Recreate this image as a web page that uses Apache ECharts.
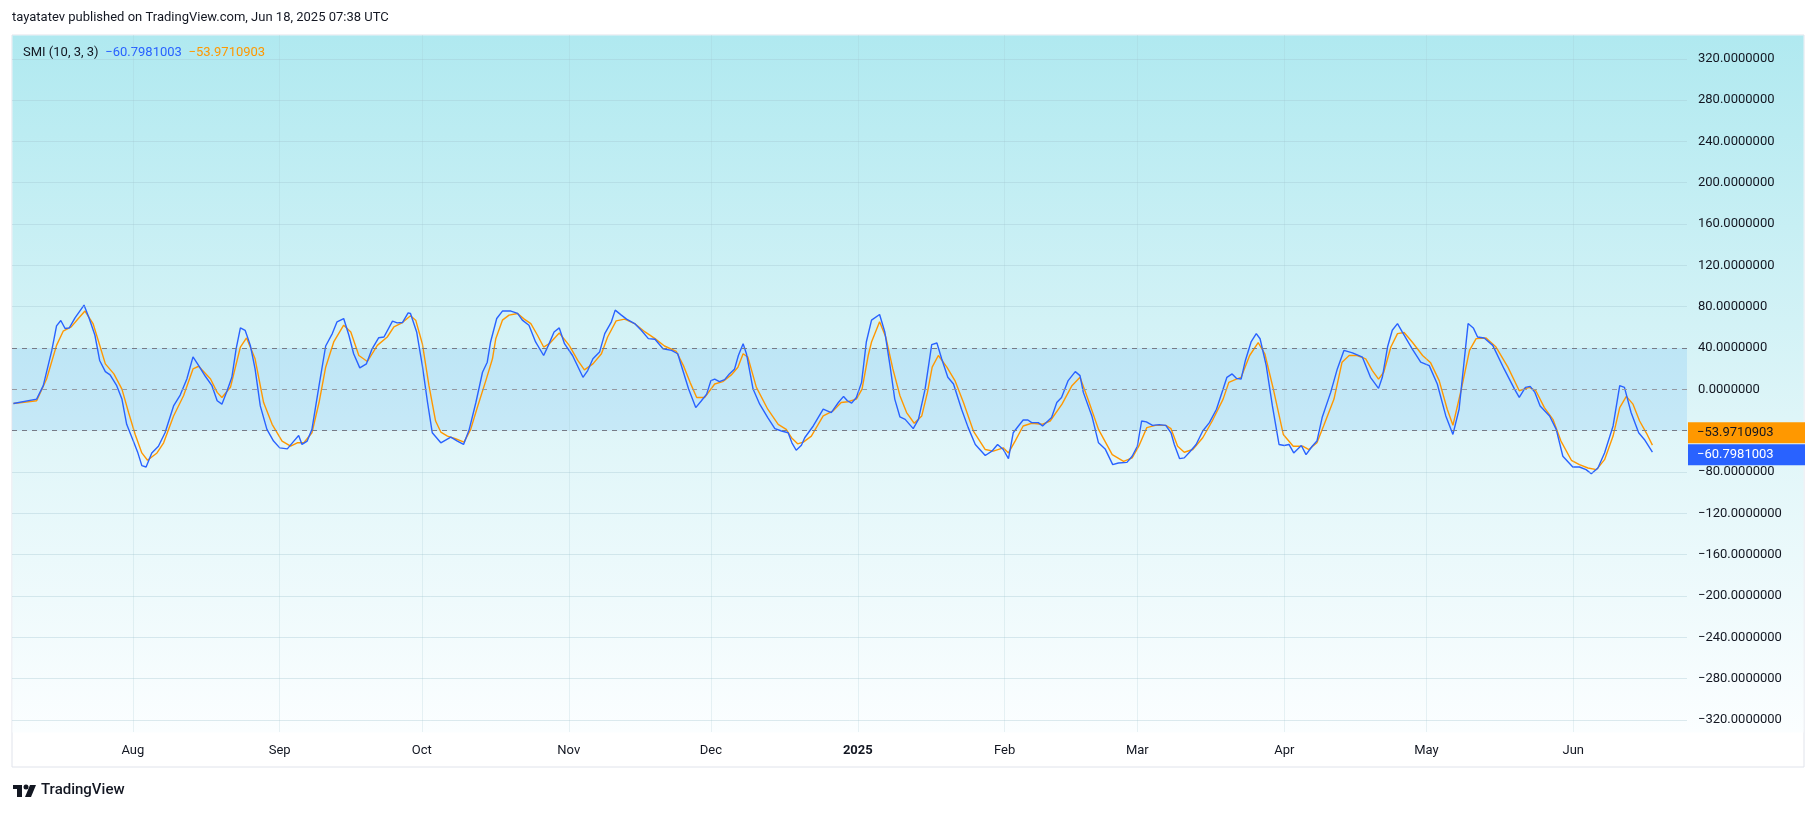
<!DOCTYPE html>
<html>
<head>
    <meta charset="utf-8">
    <title>SMI</title>
    <script src="https://cdn.jsdelivr.net/npm/echarts@6/dist/echarts.min.js"></script>
    <style>body{margin:0;background:#fff}</style>
</head>
<body>
    <div id="main" style="width:1815px;height:814px;"></div>
    <script type="text/javascript">

    // days counted from 2024-08-01
    var smiDays = [-25.2,-20.3,-18.9,-17.1,-16.1,-15.2,-14.3,-13.4,-12.2,-10.3,-9.2,-8,-7,-5.8,-4.8,-3.4,-2.3,-1.3,0.1,1,1.9,2.8,4,5.4,6.8,8.6,10,11.4,12.7,13.9,15.3,16.7,17.8,18.8,19.9,20.9,21.8,22.7,23.7,24.8,25.8,26.9,28.3,29.7,31,32.6,33.8,35,35.7,36.8,37.8,39.3,40.7,42.1,43.1,44.5,45.6,46.6,47.9,49.3,50.5,51.9,53,54.8,55.8,56.9,58.1,58.6,59.9,61.1,62.2,63.2,65,
        67.1,68.5,69.8,71,72.4,73.8,74.8,75.5,76.8,78,79.8,81.2,82.2,83.6,85,86.7,87.7,88.9,90,91.1,92.8,95,96,97.1,98.5,99.6,101,101.8,103.1,104.2,105.9,107.3,108.8,110.2,111.9,113.7,115,116.2,117.3,118.8,120,121.1,122,122.8,123.8,124.9,125.9,127,127.8,128.8,129.5,130.9,132.3,134,135.5,136.9,138.3,139.1,140,141.1,141.8,143.6,145.7,147.4,148.9,150,150.8,151.7,152.7,153.8,154.8,155.9,
        157.6,158.7,159.8,160.8,161.9,163,164.7,165.8,167.2,168.6,169.7,170.7,172,173.2,174.9,176.3,177.8,179.9,181.3,182.5,183.7,184.8,185.8,186.9,187.9,188.9,189.7,191.1,192,193.9,195,196,197.4,198.9,199.9,200.6,202.4,203.8,205.2,206.8,208,209.8,210.9,212,212.9,213.9,215.2,216.6,218,219.1,219.8,220.9,221.9,223,224.4,225.8,227.2,228.7,230.1,230.9,232,232.9,233.9,234.8,236,237.1,237.9,239.2,240.5,241.9,243,244,245,246.6,247.6,248.9,
        249.9,251,252.8,254.2,255.6,257.4,259.5,261.2,262.9,263.7,264.8,265.8,266.9,267.9,270,271.8,273.6,275.3,277.1,278.6,279.9,281.8,282.9,283.8,285.2,287,289.4,291.6,292.6,293.9,294.9,295.9,297,299,300.4,301.8,303.9,305.3,306.7,307.8,309.2,310.6,312.4,313.8,314.8,316.2,317.8,319,320.7];
    var smiValues = [-13.7,-9.4,3.6,37.7,61.5,66.7,58.9,59.5,69.3,81.6,68.6,52.4,28,17.2,14,3.6,-9.4,-33.8,-50,-60.5,-73.8,-75.1,-61.5,-55,-42,-16,-5.5,10,31.5,23,12.7,3.6,-11,-14.3,-1.3,11.7,39.3,59.5,57.2,42.6,19.8,-16,-38.7,-50,-56.6,-57.6,-51,-44.6,-53.3,-50,-38.7,3.6,42,54,65.4,68.6,52.4,34.5,20.8,24.7,39.3,50,50.7,66,64.4,64.7,74.1,73.5,55.6,23,-12.7,-42,-51.7,
        -46.2,-50,-53.3,-38.7,-12.7,16.6,26.3,45.9,68.6,75.8,75.8,73.5,67,62.1,45.9,32.8,42.6,55.6,59.5,44.2,32.8,11.7,18.2,29.6,36.1,54,65.4,76.7,71.9,68,63.7,57.2,49.1,48.5,39.3,37.7,34.5,16.6,0.3,-17.6,-11,-4.6,8.5,10,7.5,9.4,15,19.8,32.8,44.2,34.5,0.3,-14.3,-27.3,-38,-40.3,-42,-51.7,-58.9,-54,-46.8,-35.4,-19.2,-22.4,-12.7,-6.8,-11,-13.3,-7.8,6.8,45.9,67,
        72.5,55.6,23,-9.4,-26.7,-29,-38,-29,0.3,43.3,44.9,29.6,11.7,5.2,-19.2,-37,-53.3,-64,-59.8,-53.3,-58.2,-67,-42,-35.4,-29.6,-29.6,-32.2,-32.2,-35.4,-27.3,-12.7,-7.8,8.5,17.2,13.3,-2.9,-25.7,-51.7,-57.6,-72.8,-71.2,-70.6,-64.7,-55,-30.6,-31.5,-34.8,-34.1,-34.8,-42,-53.3,-67,-66.3,-60.8,-53.3,-40.3,-32.2,-19.2,0.3,11.7,15,10.7,10,28,45.9,54,49,23,-16,-53.3,-54.3,-53.3,-61.5,-54.3,-63.1,-55,
        -50,-27.3,-2.9,19.8,37.7,35.4,31.2,11.7,1,11.7,41,57.2,63.7,55.6,39.3,26.3,23,5.2,-25.7,-43.6,-19.2,63.7,59.5,50.7,49.8,42.6,19.8,0.3,-7.8,2,2.9,-2.9,-16,-25.7,-38.7,-64.7,-75.1,-75.1,-77.7,-81.6,-76.1,-61.5,-35.4,3.6,2,-22.4,-42,-48.5,-60.8];

    var sigDays = [-25.2,-20.3,-18.2,-16.1,-14.7,-13,-11.5,-10.1,-8.4,-7.2,-5.8,-4,-2.3,-0.9,0.5,1.9,3.1,5.1,6.5,8.6,10.7,12.7,13.9,16.4,17.8,18.8,20.6,22.7,24,25.8,27.6,29.4,31.5,33.3,34.7,36.1,37.8,39.3,40.7,42.4,44.5,46,47.7,49.5,51.6,53.7,55.1,56.9,58.6,59.7,61.1,62.5,63.9,65,
        66.4,68.1,69.9,71.3,72.7,74.5,75.9,76.6,78,79.4,81.2,82.6,84,85.4,86.7,87.9,90,92.1,93.9,95.3,97.1,98.9,100.2,102,103.8,105.9,108.1,110.2,112.2,114.7,116.2,117.6,119,120.7,122.8,124.5,126.3,127.7,128.8,129.8,131.6,134,136.2,137.9,139,140.3,141.5,143.2,145.7,147.8,149.5,150.9,152.7,153.9,155.2,155.9,
        157.6,158.9,160.4,161.9,163.3,164.9,166.5,167.7,168.7,170,171.8,173.5,175.3,177.4,179.9,181.6,183.7,184.8,186.2,187.9,189.7,191.9,193.6,196.1,198.2,199.9,201.7,203.8,206.7,209.1,210.9,212.3,214,215.8,218,219.1,220.5,221.9,223.7,225.8,227.8,230.1,231.3,232.9,233.9,235.7,237.5,238.9,240.7,242.8,244.9,246.9,
        248.2,249.9,251.3,253.5,255.2,256.7,258.4,260.2,261.6,262.9,264,265.5,266.9,268.3,270,272.2,273.9,275.7,277.4,278.6,280.3,282.1,283.5,285.6,287.7,290.2,292.6,294.7,296.1,297.9,299.7,301.4,303.6,305.3,307.1,308.9,310.6,312.4,313.8,315.2,316.6,318,319.4,320.7];
    var sigValues = [-13.7,-11,10,42.6,56.3,60.5,68.6,75.8,63.7,45.9,24.7,15,0.3,-22.4,-43.6,-61.5,-68.6,-61.5,-51.7,-25.7,-6.2,19.8,22.4,10,-2.9,-7.8,2,41,49.8,29.6,-12.7,-33.8,-50,-55,-51.7,-51.7,-42,-12.7,21.5,45.9,62.1,55.6,32.8,27,42.6,50.7,60.5,64.7,71.2,67,44.2,3.6,-30.6,-41.3,
        -45.2,-47.8,-51,-38.7,-17.6,8.5,29.6,49.1,67,71.9,73.5,68,63.7,52.4,41,44.2,54.6,42.6,28,18.9,24.7,34.5,50.7,66.3,68,63.7,55.6,49.1,42,36.7,23,6.8,-7.8,-7.8,5.2,7.5,14,21.5,34.5,31.2,2,-19.2,-33.8,-38.7,-46.8,-52.7,-51,-45.2,-25.7,-20.8,-12.7,-12,-9.4,0.3,32.8,45.9,
        65.4,50.7,19.8,-6.2,-22.4,-32.8,-25.7,-2.9,21.5,32.8,21.5,8.5,-12.7,-40.3,-58.2,-59.8,-56.6,-61.5,-50,-35.4,-32.8,-33.8,-30.6,-14.3,3.6,11.7,-11,-38.7,-63.1,-69.6,-66.3,-55,-37,-34.8,-34.8,-38,-55,-60.8,-58.2,-46.8,-30.6,-9.4,6.8,10,11.7,32.8,45.2,34.5,0.3,-43.6,-55,-55,
        -58.2,-51.7,-35.4,-9.4,26.3,32.8,32.8,29.6,18.2,10,16.6,41,54,55,45.9,32.8,25.7,8.5,-19.2,-34.8,-1.3,37.7,49.1,49.8,41,21.5,-1.3,2,-1.3,-17.6,-29,-50,-68.6,-72.8,-76.1,-77.7,-68,-45.2,-17.6,-6.8,-14.3,-30.6,-42,-54];

    var yTicks = [-320,-280,-240,-200,-160,-120,-80,-40,0,40,80,120,160,200,240,280,320];
    var yLabels = [-320,-280,-240,-200,-160,-120,-80,0,40,80,120,160,200,240,280,320];
    var monthTicks = ['2024-08-01','2024-09-01','2024-10-01','2024-11-01','2024-12-01','2025-01-01','2025-02-01','2025-03-01','2025-04-01','2025-05-01','2025-06-01'];
    var monthNames = ['Aug','Sep','Oct','Nov','Dec','2025','Feb','Mar','Apr','May','Jun'];
    var lastSmi = -60.7981003, lastSig = -53.9710903;

    var base = Date.UTC(2024, 7, 1);
    function toPairs(days, vals) {
        var out = [];
        for (var i = 0; i < days.length; i++) out.push([base + days[i] * 86400000, vals[i]]);
        return out;
    }
    var tickTimes = monthTicks.map(function (d) { return new Date(d + 'T00:00:00Z').getTime(); });
    var font = 'Roboto, "Noto Sans", sans-serif';
    function minus(v) { return v.toFixed(7).replace('-', '\u2212'); }

    var myChart = echarts.init(document.getElementById('main'));
    var option = {
        animation: false,
        textStyle: {fontFamily: font},
        graphic: [
            {type: 'rect', z: -11, silent: true, shape: {x: 12, y: 35, width: 1792, height: 732},
             style: {fill: '#fff', stroke: '#e0e3eb', lineWidth: 1}},
            {type: 'rect', z: -10, silent: true, shape: {x: 12.5, y: 35.5, width: 1791, height: 697},
             style: {fill: new echarts.graphic.LinearGradient(0, 0, 0, 1, [
                 {offset: 0, color: '#b0e9f0'}, {offset: 0.55, color: '#def5f8'}, {offset: 1, color: '#fbfeff'}])}},
            {type: 'text', left: 12, top: 11, style: {text: 'tayatatev published on TradingView.com, Jun 18, 2025 07:38 UTC', font: '13px ' + font, fill: '#131722'}},
            {type: 'text', left: 23, top: 46, style: {rich: {
                a: {fontSize: 13, fill: '#131722', fontFamily: font},
                b: {fontSize: 13, fill: '#2962ff', fontFamily: font},
                c: {fontSize: 13, fill: '#ff9800', fontFamily: font}},
                text: '{a|SMI (10, 3, 3)}  {b|' + minus(lastSmi) + '}  {c|' + minus(lastSig) + '}'}},
            {type: 'group', left: 13, top: 783, children: [
                {type: 'rect', shape: {x: 0, y: 2, width: 9, height: 4}, style: {fill: '#131722'}},
                {type: 'rect', shape: {x: 4, y: 2, width: 5, height: 12}, style: {fill: '#131722'}},
                {type: 'circle', shape: {cx: 13, cy: 4, r: 2.5}, style: {fill: '#131722'}},
                {type: 'polygon', shape: {points: [[17, 2], [23, 2], [18, 14], [12, 14]]}, style: {fill: '#131722'}},
                {type: 'text', x: 28, y: 0, style: {text: 'TradingView', font: '500 15px ' + font, fill: '#131722'}}
            ]}
        ],
        grid: {left: 12, right: 128, top: 35, height: 697, containLabel: false},
        xAxis: {
            type: 'value',
            min: Date.UTC(2024, 6, 6, 12),
            max: Date.UTC(2025, 5, 25),
            axisLine: {show: false},
            axisTick: {show: false, customValues: tickTimes},
            splitLine: {show: false},
            axisLabel: {
                customValues: tickTimes,
                margin: 12,
                color: '#131722',
                fontSize: 13,
                formatter: function (v) {
                    var i = tickTimes.indexOf(v);
                    var n = i < 0 ? '' : monthNames[i];
                    return n === '2025' ? '{b|2025}' : n;
                },
                rich: {b: {fontWeight: 'bold', fontSize: 13, color: '#131722'}}
            }
        },
        yAxis: {
            type: 'value',
            position: 'right',
            min: -331.6,
            max: 343,
            axisLine: {show: false},
            axisTick: {show: false, customValues: yTicks},
            splitLine: {show: false},
            axisLabel: {
                customValues: yLabels,
                margin: 11,
                color: '#131722',
                fontSize: 13,
                formatter: minus
            }
        },
        series: [
            {
                name: 'grid', type: 'line', data: [], silent: true,
                markLine: {symbol: 'none', silent: true, label: {show: false},
                    lineStyle: {color: 'rgba(160,195,205,0.35)', type: 'solid', width: 1},
                    data: yTicks.filter(function (t) { return [40, 0, -40].indexOf(t) < 0; }).map(function (t) { return {yAxis: t}; })
                        .concat(tickTimes.map(function (t) { return {xAxis: t, lineStyle: {color: 'rgba(160,195,205,0.22)'}}; }))}
            },
            {
                name: 'bands', type: 'line', data: [], silent: true,
                markArea: {silent: true, itemStyle: {color: 'rgba(33,150,243,0.13)'}, data: [[{yAxis: -40}, {yAxis: 40}]]},
                markLine: {symbol: 'none', silent: true, label: {show: false},
                    lineStyle: {color: '#787b86', type: [5, 5], width: 1},
                    data: [{yAxis: 40}, {yAxis: 0, lineStyle: {color: '#9598a1'}}, {yAxis: -40}]}
            },
            {
                name: 'SMI', type: 'line', data: toPairs(smiDays, smiValues), showSymbol: false,
                lineStyle: {color: '#2962ff', width: 1.4}, z: 4
            },
            {
                name: 'Signal', type: 'line', data: toPairs(sigDays, sigValues), showSymbol: false,
                lineStyle: {color: '#ff9800', width: 1.4}, z: 3
            }
        ]
    };
    myChart.setOption(option);

    // price-scale tags for last values, pushed apart so they don't overlap
    var ySig = myChart.convertToPixel({yAxisIndex: 0}, lastSig);
    var ySmi = myChart.convertToPixel({yAxisIndex: 0}, lastSmi);
    if (ySmi - ySig < 22) { var mid = (ySmi + ySig) / 2 - 5; ySig = mid - 11; ySmi = mid + 11; }
    function tag(y, val, col) {
        return {type: 'group', x: 1688, y: y - 10.5, zlevel: 1, z: 100, children: [
            {type: 'rect', shape: {x: 0, y: 0, width: 117, height: 21}, style: {fill: col}},
            {type: 'text', x: 9, y: 10.5, style: {text: minus(val), font: '13px ' + font, verticalAlign: 'middle', fill: col === '#ff9800' ? '#131722' : '#fff'}}
        ]};
    }
    myChart.setOption({graphic: option.graphic.concat([tag(ySig, lastSig, '#ff9800'), tag(ySmi, lastSmi, '#2962ff')])});
    </script>
</body>
</html>
